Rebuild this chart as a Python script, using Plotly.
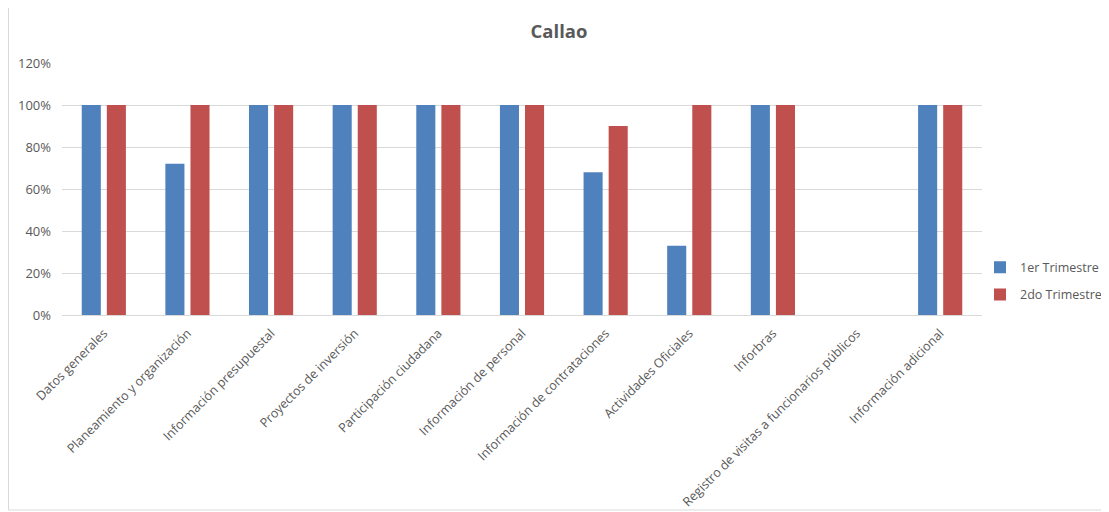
import plotly.graph_objects as go

categories = [
    "Datos generales",
    "Planeamiento y organización",
    "Información presupuestal",
    "Proyectos de inversión",
    "Participación ciudadana",
    "Información de personal",
    "Información de contrataciones",
    "Actividades Oficiales",
    "Inforbras",
    "Registro de visitas a funcionarios públicos",
    "Información adicional",
]
trim1 = [1.0, 0.72, 1.0, 1.0, 1.0, 1.0, 0.68, 0.33, 1.0, None, 1.0]
trim2 = [1.0, 1.0, 1.0, 1.0, 1.0, 1.0, 0.90, 1.0, 1.0, None, 1.0]
series_names = ["1er Trimestre", "2do Trimestre"]
colors = ["#4f81bd", "#c0504d"]
ytick_vals = [0, 0.2, 0.4, 0.6, 0.8, 1.0, 1.2]

fig = go.Figure()
for i, (name, vals, col) in enumerate(zip(series_names, [trim1, trim2], colors)):
    fig.add_trace(go.Bar(x=categories, y=vals, name=name, legendgroup=f"g{i}",
                         marker=dict(color=col, line=dict(width=0))))

# page body adds an 8px offset; figure coordinates = screen - 8
W, H = 1101, 504
L, T = 54, 55
pw, ph = 920, 252
R, B = W - L - pw, H - T - ph

def fx(px):
    return (px - L) / pw

def fy(py):
    return (T + ph - py) / ph

fig.update_layout(
    width=W, height=H,
    margin=dict(l=L, r=R, t=T, b=B, autoexpand=False),
    paper_bgcolor="white", plot_bgcolor="white",
    font=dict(family="Open Sans, Noto Sans, sans-serif", color="#595959", size=12),
    title=dict(text="<b>Callao</b>", x=551 / W, xref="container", xanchor="center",
               y=1 - 24 / H, yref="container", yanchor="middle", font=dict(size=18.5, color="#595959")),
    barmode="group", bargap=0.40, bargroupgap=0.24,
    showlegend=True,
    legend=dict(x=fx(972), xanchor="left", y=fy(273), yanchor="middle",
                orientation="v", font=dict(size=12.5, color="#595959"),
                itemwidth=30, tracegroupgap=8, bgcolor="rgba(0,0,0,0)"),
    xaxis=dict(tickangle=-45, showgrid=False, showline=True, linecolor="#d9d9d9",
               ticks="", automargin=False, ticklabelstandoff=5,
               tickfont=dict(size=12.6, color="#595959")),
    yaxis=dict(range=[0, 1.2], tickvals=ytick_vals, tickformat=".0%", showgrid=True,
               gridcolor="#d9d9d9", zeroline=False, showline=False, ticks="",
               automargin=False, ticklabelstandoff=10, tickfont=dict(size=13, color="#595959")),
    shapes=[dict(type="rect", xref="paper", yref="paper",
                 x0=fx(0.5), x1=fx(1096), y0=fy(502), y1=fy(-8),
                 line=dict(color="#d9d9d9", width=1), fillcolor="rgba(0,0,0,0)", layer="below")],
)

fig.write_html("out.html")
